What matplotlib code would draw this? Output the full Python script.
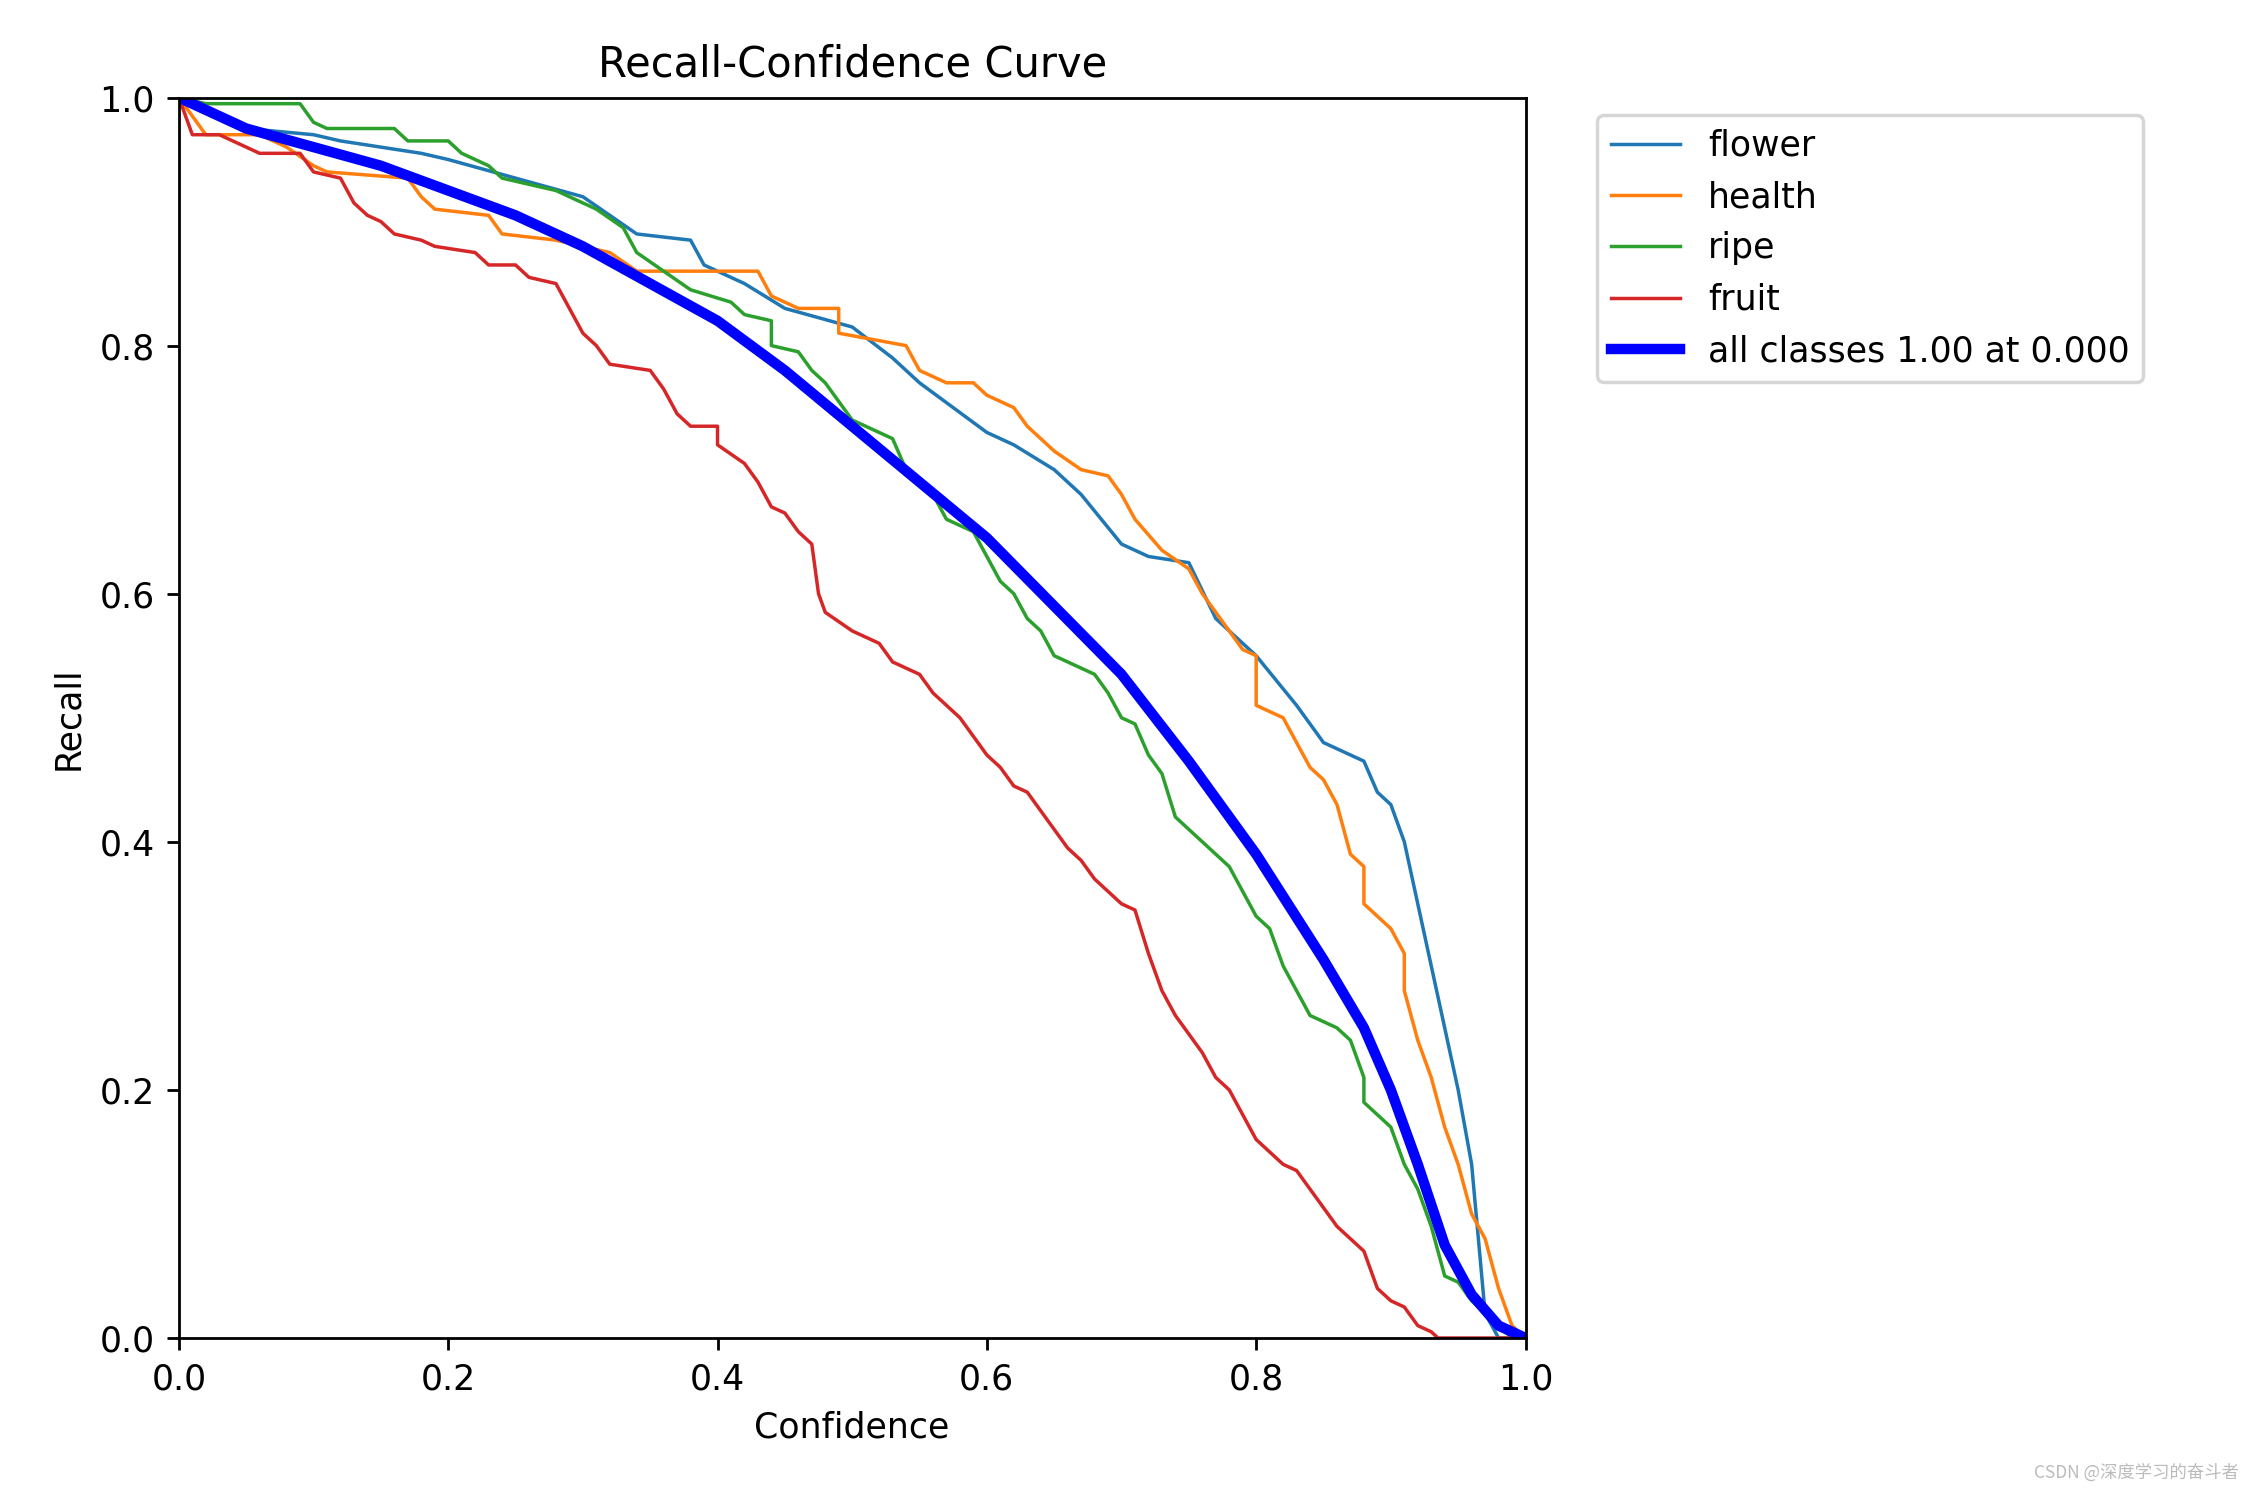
import matplotlib.pyplot as plt

flower_x = [0, 0.02, 0.05, 0.1, 0.12, 0.15, 0.18, 0.2, 0.25, 0.3, 0.32, 0.34, 0.38, 0.39, 0.42, 0.45, 0.5, 0.53, 0.55, 0.6, 0.62, 0.65, 0.67, 0.7, 0.72, 0.75, 0.77, 0.8, 0.83, 0.85, 0.88, 0.89, 0.9, 0.91, 0.92, 0.93, 0.94, 0.95, 0.96, 0.965, 0.97, 0.98, 1.0]
flower_y = [1.0, 0.99, 0.975, 0.97, 0.965, 0.96, 0.955, 0.95, 0.935, 0.92, 0.905, 0.89, 0.885, 0.865, 0.85, 0.83, 0.815, 0.79, 0.77, 0.73, 0.72, 0.70, 0.68, 0.64, 0.63, 0.625, 0.58, 0.55, 0.51, 0.48, 0.465, 0.44, 0.43, 0.40, 0.35, 0.3, 0.25, 0.2, 0.14, 0.08, 0.02, 0.0, 0.0]

health_x = [0, 0.02, 0.06, 0.08, 0.1, 0.11, 0.17, 0.18, 0.19, 0.23, 0.24, 0.28, 0.32, 0.34, 0.43, 0.44, 0.46, 0.49, 0.49, 0.54, 0.55, 0.57, 0.59, 0.6, 0.62, 0.63, 0.65, 0.67, 0.69, 0.7, 0.71, 0.73, 0.75, 0.76, 0.78, 0.79, 0.8, 0.8, 0.82, 0.83, 0.84, 0.85, 0.86, 0.87, 0.88, 0.88, 0.9, 0.91, 0.91, 0.92, 0.93, 0.94, 0.95, 0.96, 0.97, 0.98, 0.99, 1.0]
health_y = [1.0, 0.97, 0.97, 0.96, 0.945, 0.94, 0.935, 0.92, 0.91, 0.905, 0.89, 0.885, 0.875, 0.86, 0.86, 0.84, 0.83, 0.83, 0.81, 0.80, 0.78, 0.77, 0.77, 0.76, 0.75, 0.735, 0.715, 0.70, 0.695, 0.68, 0.66, 0.635, 0.62, 0.6, 0.57, 0.555, 0.55, 0.51, 0.5, 0.48, 0.46, 0.45, 0.43, 0.39, 0.38, 0.35, 0.33, 0.31, 0.28, 0.24, 0.21, 0.17, 0.14, 0.1, 0.08, 0.04, 0.01, 0.0]

ripe_x = [0, 0.02, 0.09, 0.1, 0.11, 0.16, 0.17, 0.2, 0.21, 0.23, 0.24, 0.26, 0.28, 0.3, 0.31, 0.33, 0.34, 0.36, 0.38, 0.41, 0.42, 0.44, 0.44, 0.46, 0.47, 0.48, 0.49, 0.5, 0.52, 0.53, 0.54, 0.56, 0.57, 0.59, 0.6, 0.61, 0.62, 0.63, 0.64, 0.65, 0.68, 0.69, 0.7, 0.71, 0.72, 0.73, 0.74, 0.76, 0.78, 0.79, 0.8, 0.81, 0.82, 0.83, 0.84, 0.86, 0.87, 0.88, 0.88, 0.9, 0.91, 0.92, 0.93, 0.94, 0.95, 0.96, 0.97, 0.98, 0.99, 1.0]
ripe_y = [1.0, 0.995, 0.995, 0.98, 0.975, 0.975, 0.965, 0.965, 0.955, 0.945, 0.935, 0.93, 0.925, 0.915, 0.91, 0.895, 0.875, 0.86, 0.845, 0.835, 0.825, 0.82, 0.80, 0.795, 0.78, 0.77, 0.755, 0.74, 0.73, 0.725, 0.70, 0.68, 0.66, 0.65, 0.63, 0.61, 0.6, 0.58, 0.57, 0.55, 0.535, 0.52, 0.5, 0.495, 0.47, 0.455, 0.42, 0.4, 0.38, 0.36, 0.34, 0.33, 0.3, 0.28, 0.26, 0.25, 0.24, 0.21, 0.19, 0.17, 0.14, 0.12, 0.09, 0.05, 0.045, 0.03, 0.02, 0.01, 0.0, 0.0]

fruit_x = [0, 0.01, 0.03, 0.06, 0.09, 0.1, 0.12, 0.13, 0.14, 0.15, 0.16, 0.18, 0.19, 0.22, 0.23, 0.25, 0.26, 0.28, 0.29, 0.3, 0.31, 0.32, 0.35, 0.36, 0.37, 0.38, 0.4, 0.4, 0.42, 0.43, 0.44, 0.45, 0.46, 0.47, 0.475, 0.48, 0.5, 0.52, 0.53, 0.55, 0.56, 0.57, 0.58, 0.59, 0.6, 0.61, 0.62, 0.63, 0.64, 0.65, 0.66, 0.67, 0.68, 0.69, 0.7, 0.71, 0.72, 0.73, 0.74, 0.75, 0.76, 0.77, 0.78, 0.79, 0.8, 0.81, 0.82, 0.83, 0.84, 0.85, 0.86, 0.87, 0.88, 0.89, 0.9, 0.91, 0.92, 0.93, 0.935, 1.0]
fruit_y = [1.0, 0.97, 0.97, 0.955, 0.955, 0.94, 0.935, 0.915, 0.905, 0.9, 0.89, 0.885, 0.88, 0.875, 0.865, 0.865, 0.855, 0.85, 0.83, 0.81, 0.80, 0.785, 0.78, 0.765, 0.745, 0.735, 0.735, 0.72, 0.705, 0.69, 0.67, 0.665, 0.65, 0.64, 0.6, 0.585, 0.57, 0.56, 0.545, 0.535, 0.52, 0.51, 0.5, 0.485, 0.47, 0.46, 0.445, 0.44, 0.425, 0.41, 0.395, 0.385, 0.37, 0.36, 0.35, 0.345, 0.31, 0.28, 0.26, 0.245, 0.23, 0.21, 0.2, 0.18, 0.16, 0.15, 0.14, 0.135, 0.12, 0.105, 0.09, 0.08, 0.07, 0.04, 0.03, 0.025, 0.01, 0.005, 0.0, 0.0]

all_x = [0, 0.05, 0.1, 0.15, 0.2, 0.25, 0.3, 0.35, 0.4, 0.45, 0.5, 0.55, 0.6, 0.65, 0.7, 0.75, 0.8, 0.85, 0.88, 0.9, 0.92, 0.94, 0.96, 0.98, 1.0]
all_y = [1.0, 0.975, 0.96, 0.945, 0.925, 0.905, 0.88, 0.85, 0.82, 0.78, 0.735, 0.69, 0.645, 0.59, 0.535, 0.465, 0.39, 0.305, 0.25, 0.2, 0.14, 0.075, 0.035, 0.01, 0.0]

fig = plt.figure(figsize=(9, 6), dpi=250)
ax = fig.add_axes([0.0795, 0.108, 0.5985, 0.827])

ax.plot(flower_x, flower_y, linewidth=1, label='flower')
ax.plot(health_x, health_y, linewidth=1, label='health')
ax.plot(ripe_x, ripe_y, linewidth=1, label='ripe')
ax.plot(fruit_x, fruit_y, linewidth=1, label='fruit')
ax.plot(all_x, all_y, linewidth=3, color='blue', label='all classes 1.00 at 0.000')

ax.set_xlim(0, 1)
ax.set_ylim(0, 1)
ax.set_xlabel('Confidence')
ax.set_ylabel('Recall')
ax.set_title('Recall-Confidence Curve')
ax.legend(bbox_to_anchor=(1.04, 1), loc='upper left')

fig.text(0.995, 0.012, 'CSDN @深度学习的奋斗者', ha='right', va='bottom', fontsize=5,
         color='#bbbbbb', family=['Noto Sans CJK SC', 'DejaVu Sans'])

plt.savefig('out.png', dpi=250)
